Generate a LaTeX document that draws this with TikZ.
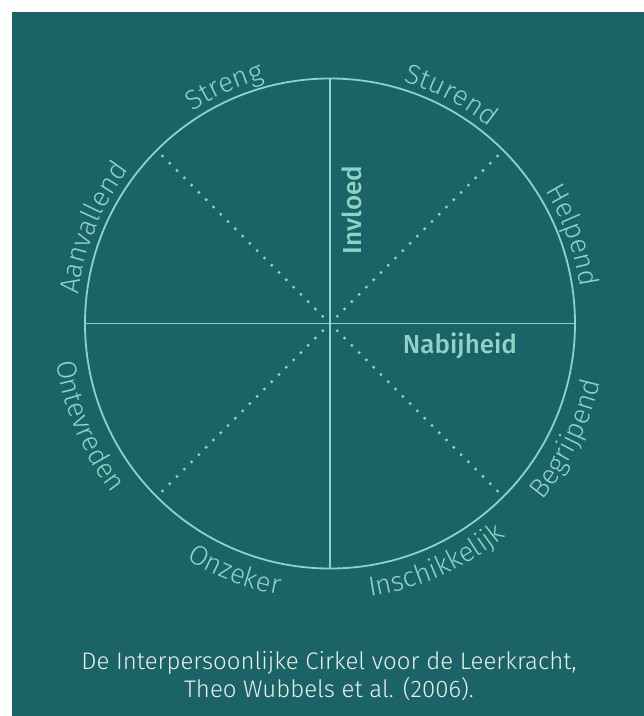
\documentclass[tikz,border=0pt]{standalone}
\usepackage{fontspec}
\setmainfont{Fira Sans}
\newfontfamily\lightfont{Fira Sans Light}
\newfontfamily\medfont{Fira Sans Medium}
\usetikzlibrary{decorations.text}
\definecolor{bgteal}{HTML}{1B6366}
\definecolor{aqua}{HTML}{8ED3C7}
\definecolor{captext}{HTML}{E8F0EE}
\newcommand\arclabelTop[2]{%
  \path[decorate,decoration={text along path,text align=center,text color=aqua,
    text={|\lightfont\fontsize{27.5}{27.5}\selectfont|#2}}]
    ({#1+40}:253) arc[start angle={#1+40},end angle={#1-40},radius=253];}
\newcommand\arclabelBot[2]{%
  \path[decorate,decoration={text along path,text align=center,text color=aqua,
    text={|\lightfont\fontsize{27.5}{27.5}\selectfont|#2}}]
    ({#1-40}:276) arc[start angle={#1-40},end angle={#1+40},radius=276];}
\begin{document}
\begin{tikzpicture}[x=1pt,y=1pt,
  axisline/.style={draw=aqua,line width=1.8pt},
  dotline/.style={draw=aqua,line width=3.3pt,line cap=round,dash pattern=on 0pt off 10.3pt},
  axislabel/.style={text=aqua,font=\medfont\fontsize{26}{26}\selectfont,inner sep=0pt},
  captionstyle/.style={text=captext,font=\lightfont\fontsize{24}{28}\selectfont,align=center}]
\useasboundingbox (-330,323.5) rectangle (314,-392.5);
\fill[bgteal] (-318,311.5) rectangle (314,-392.5);
\coordinate (c) at (0,0);
\coordinate (top) at (90:245);
\coordinate (bot) at (270:245);
\coordinate (lft) at (180:245);
\coordinate (rgt) at (0:245);
\coordinate (ne) at (45:245);
\coordinate (nw) at (135:245);
\coordinate (sw) at (225:245);
\coordinate (se) at (315:245);
\draw[dotline] (c) -- (ne);
\draw[dotline] (c) -- (nw);
\draw[dotline] (c) -- (sw);
\draw[dotline] (c) -- (se);
\draw[axisline] (top) -- (bot);
\draw[axisline] (lft) -- (rgt);
\draw[axisline] (c) circle (245);
\node[axislabel,rotate=90,anchor=base] (invloed) at (32,113.5) {Invloed};
\node[axislabel,anchor=base] (nabijheid) at (130,-29.5) {Nabijheid};
\arclabelTop{114}{Streng}
\arclabelTop{62}{Sturend}
\arclabelTop{20}{Helpend}
\arclabelTop{158}{Aanvallend}
\arclabelBot{203}{Ontevreden}
\arclabelBot{249}{Onzeker}
\arclabelBot{294}{Inschikkelijk}
\arclabelBot{334}{Begrijpend}
\node[captionstyle] (caption) at (-1,-353) {De Interpersoonlijke Cirkel voor de Leerkracht,\\Theo Wubbels et al. (2006).};
\end{tikzpicture}
\end{document}
